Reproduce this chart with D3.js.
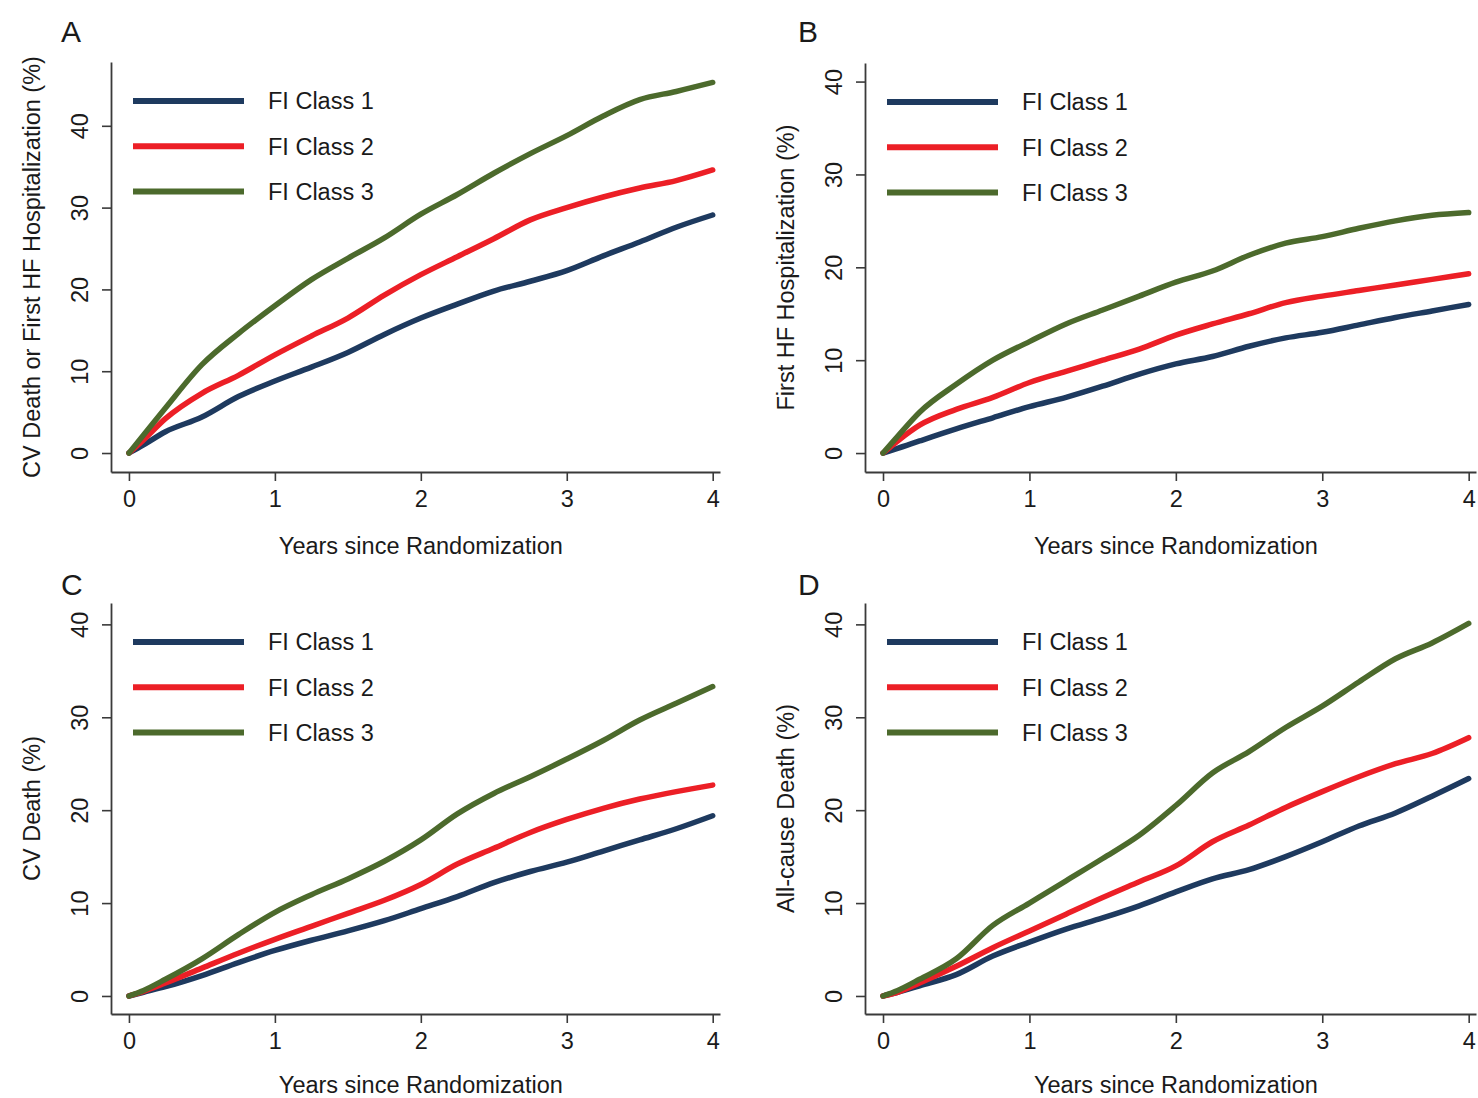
<!DOCTYPE html>
<html>
<head>
<meta charset="utf-8">
<script src="https://cdn.jsdelivr.net/npm/d3@7"></script>
<style>
  body { margin: 0; background: #fff; }
  text { font-family: "Liberation Sans", Arial, Helvetica, sans-serif; fill: #1a1a1a; }
</style>
</head>
<body>
<svg id="chart" width="1478" height="1098"></svg>
<script>
// Follow-up times (years since randomization) at which cumulative incidence is tabulated
const years = [0, 0.1, 0.25, 0.5, 0.75, 1, 1.25, 1.5, 1.75, 2, 2.25, 2.5, 2.75, 3, 3.25, 3.5, 3.75, 4];

const classNames = ["FI Class 1", "FI Class 2", "FI Class 3"];
const classColors = ["#1e3a5f", "#ec1f26", "#4c6a2c"];

const xTicks = [0, 1, 2, 3, 4];
const yTicks = [0, 10, 20, 30, 40];

// A: CV death or first HF hospitalization (%)
const cvDeathOrHfClass1 = [0, 1.0, 2.6, 4.4, 6.9, 8.8, 10.5, 12.3, 14.5, 16.5, 18.2, 19.8, 21.0, 22.3, 24.1, 25.8, 27.6, 29.1];
const cvDeathOrHfClass2 = [0, 1.6, 4.2, 7.3, 9.5, 12.0, 14.3, 16.5, 19.3, 21.8, 24.0, 26.2, 28.5, 30.0, 31.3, 32.4, 33.3, 34.6];
const cvDeathOrHfClass3 = [0, 2.2, 5.5, 10.8, 14.6, 18.0, 21.2, 23.8, 26.3, 29.2, 31.6, 34.2, 36.6, 38.8, 41.2, 43.2, 44.2, 45.3];

// B: first HF hospitalization (%)
const firstHfClass1 = [0, 0.5, 1.3, 2.6, 3.8, 5.0, 6.0, 7.2, 8.5, 9.6, 10.4, 11.5, 12.4, 13.0, 13.8, 14.6, 15.3, 16.0];
const firstHfClass2 = [0, 1.3, 3.0, 4.7, 6.0, 7.6, 8.8, 10.0, 11.2, 12.7, 13.9, 15.0, 16.2, 16.9, 17.5, 18.1, 18.7, 19.3];
const firstHfClass3 = [0, 1.8, 4.4, 7.4, 10.0, 12.0, 13.9, 15.4, 16.9, 18.4, 19.6, 21.3, 22.6, 23.3, 24.2, 25.0, 25.6, 25.9];

// C: CV death (%)
const cvDeathClass1 = [0, 0.4, 1.0, 2.2, 3.6, 4.9, 6.0, 7.0, 8.1, 9.4, 10.7, 12.2, 13.4, 14.4, 15.6, 16.8, 18.0, 19.4];
const cvDeathClass2 = [0, 0.5, 1.4, 3.0, 4.6, 6.1, 7.5, 8.9, 10.3, 12.0, 14.2, 15.9, 17.6, 19.0, 20.2, 21.2, 22.0, 22.7];
const cvDeathClass3 = [0, 0.6, 1.8, 4.0, 6.6, 9.0, 10.9, 12.6, 14.5, 16.8, 19.6, 21.8, 23.6, 25.5, 27.5, 29.7, 31.5, 33.3];

// D: all-cause death (%)
const allDeathClass1 = [0, 0.4, 1.1, 2.3, 4.3, 5.8, 7.2, 8.4, 9.7, 11.2, 12.6, 13.6, 15.0, 16.6, 18.3, 19.7, 21.5, 23.4];
const allDeathClass2 = [0, 0.4, 1.4, 3.2, 5.2, 7.0, 8.8, 10.6, 12.3, 14.0, 16.6, 18.4, 20.3, 22.0, 23.6, 25.0, 26.1, 27.8];
const allDeathClass3 = [0, 0.6, 1.8, 4.0, 7.6, 10.0, 12.4, 14.8, 17.3, 20.5, 24.0, 26.3, 28.9, 31.2, 33.8, 36.3, 38.0, 40.1];

const xTitle = "Years since Randomization";

// Panel layout: plot frame (axis corner at left/bottom), y domain and labels
const panels = [
  { letter: "A", letterX: 61, letterY: 42, left: 111, right: 720, top: 62, bottom: 472, titleY: 554, yDomain: [-2.32, 47.8],
    yTitle: "CV Death or First HF Hospitalization (%)", series: [cvDeathOrHfClass1, cvDeathOrHfClass2, cvDeathOrHfClass3] },
  { letter: "B", letterX: 798, letterY: 42, left: 865, right: 1476, top: 63, bottom: 472, titleY: 554, yDomain: [-2.04, 42.0],
    yTitle: "First HF Hospitalization (%)", series: [firstHfClass1, firstHfClass2, firstHfClass3] },
  { letter: "C", letterX: 61, letterY: 595, left: 111, right: 720, top: 603, bottom: 1014, titleY: 1093, yDomain: [-1.94, 42.3],
    yTitle: "CV Death (%)", series: [cvDeathClass1, cvDeathClass2, cvDeathClass3] },
  { letter: "D", letterX: 798, letterY: 595, left: 865, right: 1476, top: 603, bottom: 1014, titleY: 1093, yDomain: [-1.94, 42.3],
    yTitle: "All-cause Death (%)", series: [allDeathClass1, allDeathClass2, allDeathClass3] }
];

const svg = d3.select("#chart");
svg.append("rect").attr("width", 1478).attr("height", 1098).attr("fill", "#fff");

const fontSize = 23.5;
const fontFamily = '"Liberation Sans", Arial, sans-serif';

panels.forEach(p => {
  const g = svg.append("g");
  const x = d3.scaleLinear().domain([-0.123, 4.05]).range([p.left, p.right]);
  const y = d3.scaleLinear().domain(p.yDomain).range([p.bottom, p.top]);

  // y axis with rotated tick labels reading upward
  const yAxis = g.append("g")
    .attr("transform", `translate(${p.left},0)`)
    .call(d3.axisLeft(y).tickValues(yTicks).tickSize(9).tickSizeOuter(0).tickFormat(d3.format("d")));
  yAxis.selectAll("text")
    .attr("x", null).attr("dy", "0.36em")
    .attr("text-anchor", "middle")
    .attr("transform", "translate(-31,0) rotate(-90)")
    .style("font-size", fontSize + "px")
    .style("font-family", fontFamily)
    .attr("fill", "#1a1a1a");

  // x axis
  const xAxis = g.append("g")
    .attr("transform", `translate(0,${p.bottom})`)
    .call(d3.axisBottom(x).tickValues(xTicks).tickSize(9).tickSizeOuter(0).tickPadding(9).tickFormat(d3.format("d")));
  xAxis.selectAll("text")
    .style("font-size", fontSize + "px")
    .style("font-family", fontFamily)
    .attr("fill", "#1a1a1a");

  [yAxis, xAxis].forEach(a => {
    a.select(".domain").attr("stroke", "#3a3a3a").attr("stroke-width", 1.8);
    a.selectAll(".tick line").attr("stroke", "#3a3a3a").attr("stroke-width", 1.6);
  });

  // axis titles
  g.append("text")
    .attr("x", (x(0) + x(4)) / 2)
    .attr("y", p.titleY)
    .attr("text-anchor", "middle")
    .style("font-size", fontSize + "px")
    .text(xTitle);

  g.append("text")
    .attr("transform", `translate(${p.left - 79},${(p.top + p.bottom) / 2}) rotate(-90)`)
    .attr("dy", "0.36em")
    .attr("text-anchor", "middle")
    .style("font-size", fontSize + "px")
    .text(p.yTitle);

  // panel letter
  g.append("text")
    .attr("x", p.letterX).attr("y", p.letterY)
    .style("font-size", "30px")
    .text(p.letter);

  // cumulative incidence curves
  const line = d3.line()
    .x((d, i) => x(years[i]))
    .y(d => y(d))
    .curve(d3.curveMonotoneX);

  p.series.forEach((vals, k) => {
    g.append("path")
      .datum(vals)
      .attr("d", line)
      .attr("fill", "none")
      .attr("stroke", classColors[k])
      .attr("stroke-width", 5.5)
      .attr("stroke-linejoin", "round")
      .attr("stroke-linecap", "round");
  });

  // legend
  const legend = g.append("g");
  classNames.forEach((name, k) => {
    const ly = p.top + 39 + k * 45.3;
    legend.append("line")
      .attr("x1", p.left + 22).attr("x2", p.left + 133)
      .attr("y1", ly).attr("y2", ly)
      .attr("stroke", classColors[k])
      .attr("stroke-width", 6);
    legend.append("text")
      .attr("x", p.left + 157).attr("y", ly)
      .attr("dy", "0.36em")
      .style("font-size", fontSize + "px")
      .text(name);
  });
});
</script>
</body>
</html>
